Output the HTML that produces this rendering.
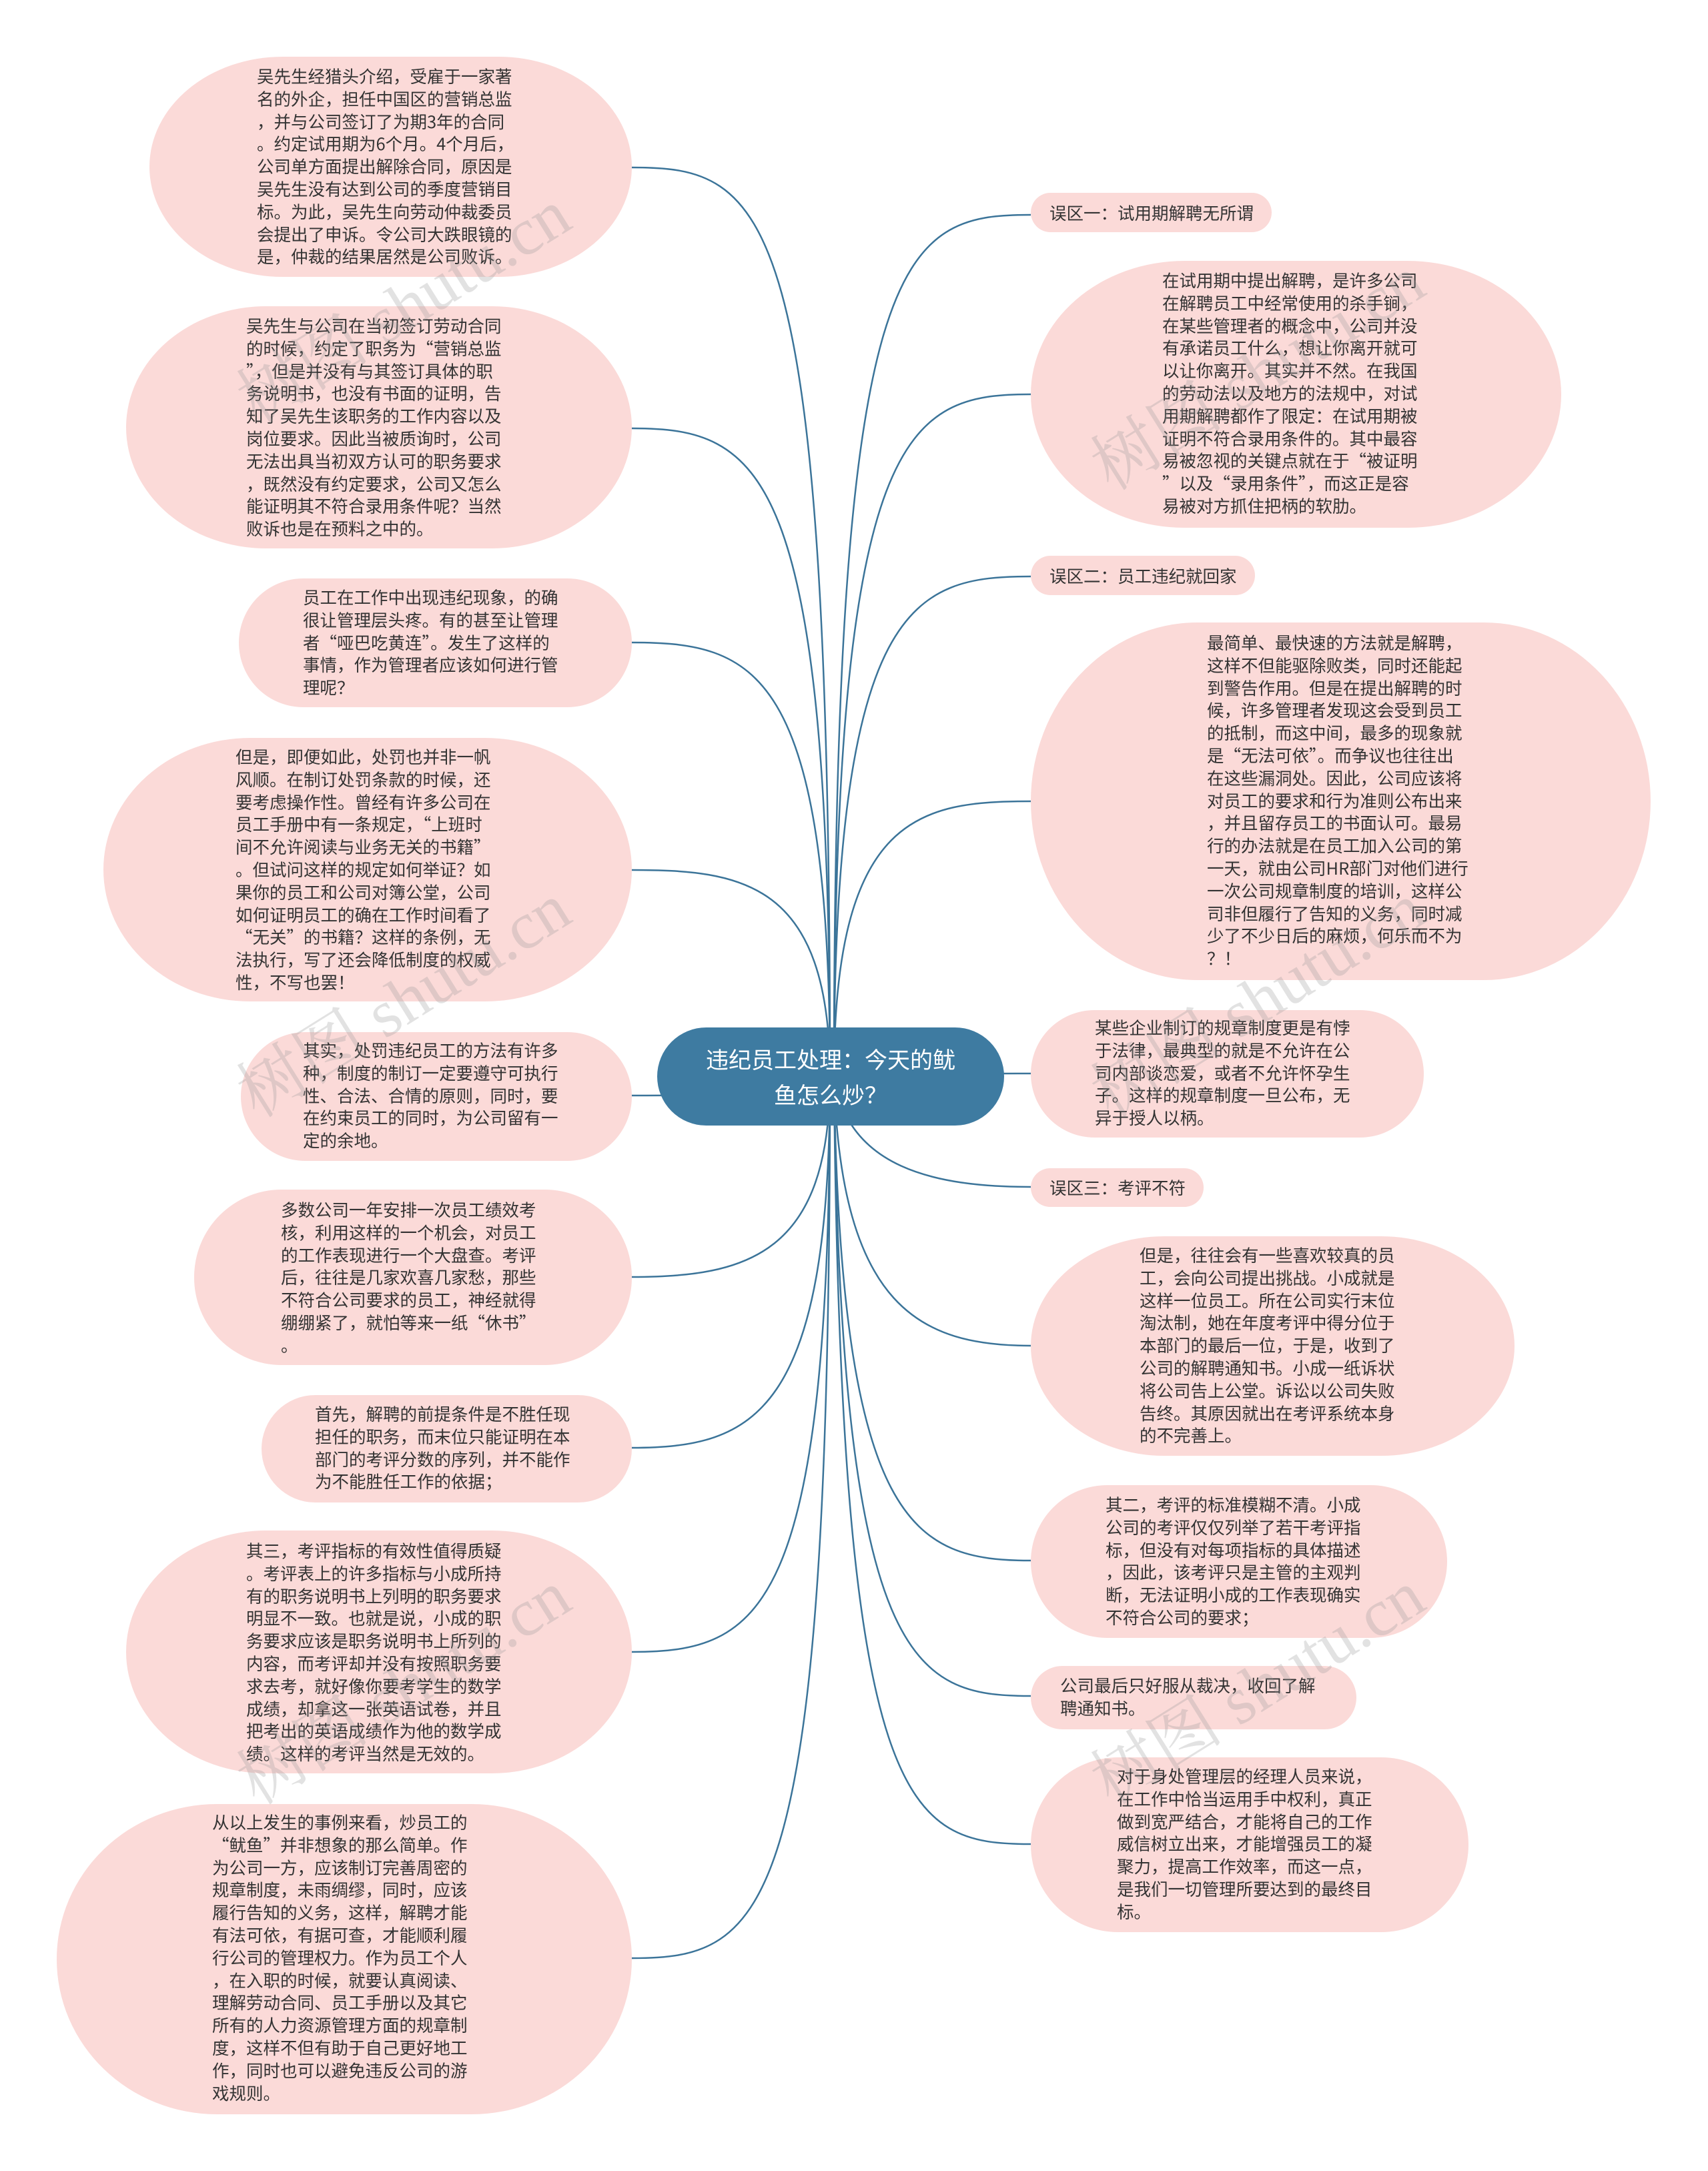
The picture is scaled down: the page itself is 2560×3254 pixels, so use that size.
<!DOCTYPE html>
<html><head><meta charset="utf-8">
<style>
html,body{margin:0;padding:0;background:#fff;}
body{width:2560px;height:3254px;position:relative;overflow:hidden;font-family:"Noto Sans CJK SC","Liberation Sans",sans-serif;}
.n{position:absolute;background:#fbdad8;}
.t{position:absolute;white-space:pre;font-size:25.5px;line-height:33.8px;color:#333;}
.c{position:absolute;left:985px;top:1540px;width:520px;height:147px;background:#3e7ba1;border-radius:74px;color:#fff;font-size:34px;line-height:53px;text-align:center;box-sizing:border-box;padding-top:20px;}
.w{position:absolute;font-family:"Liberation Serif","Noto Serif CJK SC",serif;font-size:100px;color:rgba(150,150,150,0.28);transform:rotate(-32deg);white-space:nowrap;}
svg{position:absolute;left:0;top:0;}
</style></head><body>
<svg width="2560" height="3254" fill="none" stroke="#3b7499" stroke-width="2.5">
<path d="M1244 1614 C1244 300 1150 251 947 251"/>
<path d="M1244 1614 C1244 700 1140 642 947 642"/>
<path d="M1244 1614 C1244 1000 1130 963 947 963"/>
<path d="M1244 1614 C1244 1320 1110 1304 947 1304"/>
<path d="M1244 1614 C1150 1642 1050 1642 947 1642"/>
<path d="M1244 1614 C1244 1880 1120 1914 947 1914"/>
<path d="M1244 1614 C1244 2120 1130 2170 947 2170"/>
<path d="M1244 1614 C1244 2420 1140 2476 947 2476"/>
<path d="M1244 1614 C1244 2880 1150 2935 947 2935"/>
<path d="M1250 1614 C1250 370 1350 322 1545 322"/>
<path d="M1250 1614 C1250 640 1360 591 1545 591"/>
<path d="M1250 1614 C1250 900 1370 864 1545 864"/>
<path d="M1250 1614 C1250 1220 1380 1201 1545 1201"/>
<path d="M1250 1614 C1380 1609 1460 1609 1545 1609"/>
<path d="M1250 1614 C1270 1750 1400 1779 1545 1779"/>
<path d="M1250 1614 C1260 1960 1380 2017 1545 2017"/>
<path d="M1250 1614 C1260 2290 1370 2339 1545 2339"/>
<path d="M1250 1614 C1260 2500 1370 2542 1545 2542"/>
<path d="M1250 1614 C1260 2720 1360 2764 1545 2764"/>
</svg>

<div class="n" style="left:224px;top:85px;width:723px;height:330px;border-radius:200px/50%"></div>
<div class="t" style="left:385px;top:97px">吴先生经猎头介绍，受雇于一家著
名的外企，担任中国区的营销总监
，并与公司签订了为期3年的合同
。约定试用期为6个月。4个月后，
公司单方面提出解除合同，原因是
吴先生没有达到公司的季度营销目
标。为此，吴先生向劳动仲裁委员
会提出了申诉。令公司大跌眼镜的
是，仲裁的结果居然是公司败诉。</div>

<div class="n" style="left:189px;top:459px;width:758px;height:363px;border-radius:210px/50%"></div>
<div class="t" style="left:369px;top:471px">吴先生与公司在当初签订劳动合同
的时候，约定了职务为“营销总监
”，但是并没有与其签订具体的职
务说明书，也没有书面的证明，告
知了吴先生该职务的工作内容以及
岗位要求。因此当被质询时，公司
无法出具当初双方认可的职务要求
，既然没有约定要求，公司又怎么
能证明其不符合录用条件呢？当然
败诉也是在预料之中的。</div>

<div class="n" style="left:358px;top:867px;width:589px;height:193px;border-radius:97px"></div>
<div class="t" style="left:454px;top:878px">员工在工作中出现违纪现象，的确
很让管理层头疼。有的甚至让管理
者“哑巴吃黄连”。发生了这样的
事情，作为管理者应该如何进行管
理呢？</div>

<div class="n" style="left:155px;top:1106px;width:792px;height:395px;border-radius:220px/50%"></div>
<div class="t" style="left:353px;top:1117px">但是，即便如此，处罚也并非一帆
风顺。在制订处罚条款的时候，还
要考虑操作性。曾经有许多公司在
员工手册中有一条规定，“上班时
间不允许阅读与业务无关的书籍”
。但试问这样的规定如何举证？如
果你的员工和公司对簿公堂，公司
如何证明员工的确在工作时间看了
“无关”的书籍？这样的条例，无
法执行，写了还会降低制度的权威
性，不写也罢！</div>

<div class="n" style="left:361px;top:1547px;width:586px;height:193px;border-radius:97px"></div>
<div class="t" style="left:454px;top:1557px">其实，处罚违纪员工的方法有许多
种，制度的制订一定要遵守可执行
性、合法、合情的原则，同时，要
在约束员工的同时，为公司留有一
定的余地。</div>

<div class="c">违纪员工处理：今天的鱿<br>鱼怎么炒？</div>

<div class="n" style="left:291px;top:1783px;width:656px;height:263px;border-radius:131px"></div>
<div class="t" style="left:421px;top:1796px">多数公司一年安排一次员工绩效考
核，利用这样的一个机会，对员工
的工作表现进行一个大盘查。考评
后，往往是几家欢喜几家愁，那些
不符合公司要求的员工，神经就得
绷绷紧了，就怕等来一纸“休书”
。</div>

<div class="n" style="left:392px;top:2091px;width:555px;height:161px;border-radius:81px"></div>
<div class="t" style="left:472px;top:2102px">首先，解聘的前提条件是不胜任现
担任的职务，而末位只能证明在本
部门的考评分数的序列，并不能作
为不能胜任工作的依据；</div>

<div class="n" style="left:189px;top:2294px;width:758px;height:364px;border-radius:210px/50%"></div>
<div class="t" style="left:369px;top:2307px">其三，考评指标的有效性值得质疑
。考评表上的许多指标与小成所持
有的职务说明书上列明的职务要求
明显不一致。也就是说，小成的职
务要求应该是职务说明书上所列的
内容，而考评却并没有按照职务要
求去考，就好像你要考学生的数学
成绩，却拿这一张英语试卷，并且
把考出的英语成绩作为他的数学成
绩。这样的考评当然是无效的。</div>

<div class="n" style="left:85px;top:2704px;width:862px;height:465px;border-radius:240px/50%"></div>
<div class="t" style="left:318px;top:2714px">从以上发生的事例来看，炒员工的
“鱿鱼”并非想象的那么简单。作
为公司一方，应该制订完善周密的
规章制度，未雨绸缪，同时，应该
履行告知的义务，这样，解聘才能
有法可依，有据可查，才能顺利履
行公司的管理权力。作为员工个人
，在入职的时候，就要认真阅读、
理解劳动合同、员工手册以及其它
所有的人力资源管理方面的规章制
度，这样不但有助于自己更好地工
作，同时也可以避免违反公司的游
戏规则。</div>

<div class="n" style="left:1545px;top:289px;width:361px;height:59px;border-radius:30px"></div>
<div class="t" style="left:1573px;top:302px">误区一：试用期解聘无所谓</div>

<div class="n" style="left:1545px;top:391px;width:795px;height:400px;border-radius:230px/50%"></div>
<div class="t" style="left:1742px;top:403px">在试用期中提出解聘，是许多公司
在解聘员工中经常使用的杀手锏，
在某些管理者的概念中，公司并没
有承诺员工什么，想让你离开就可
以让你离开。其实并不然。在我国
的劳动法以及地方的法规中，对试
用期解聘都作了限定：在试用期被
证明不符合录用条件的。其中最容
易被忽视的关键点就在于“被证明
”以及“录用条件”，而这正是容
易被对方抓住把柄的软肋。</div>

<div class="n" style="left:1545px;top:833px;width:336px;height:59px;border-radius:30px"></div>
<div class="t" style="left:1573px;top:846px">误区二：员工违纪就回家</div>

<div class="n" style="left:1545px;top:933px;width:929px;height:536px;border-radius:250px/50%"></div>
<div class="t" style="left:1809px;top:946px">最简单、最快速的方法就是解聘，
这样不但能驱除败类，同时还能起
到警告作用。但是在提出解聘的时
候，许多管理者发现这会受到员工
的抵制，而这中间，最多的现象就
是“无法可依”。而争议也往往出
在这些漏洞处。因此，公司应该将
对员工的要求和行为准则公布出来
，并且留存员工的书面认可。最易
行的办法就是在员工加入公司的第
一天，就由公司HR部门对他们进行
一次公司规章制度的培训，这样公
司非但履行了告知的义务，同时减
少了不少日后的麻烦，何乐而不为
？！</div>

<div class="n" style="left:1545px;top:1514px;width:589px;height:191px;border-radius:96px"></div>
<div class="t" style="left:1641px;top:1523px">某些企业制订的规章制度更是有悖
于法律，最典型的就是不允许在公
司内部谈恋爱，或者不允许怀孕生
子。这样的规章制度一旦公布，无
异于授人以柄。</div>

<div class="n" style="left:1545px;top:1751px;width:259px;height:58px;border-radius:29px"></div>
<div class="t" style="left:1573px;top:1763px">误区三：考评不符</div>

<div class="n" style="left:1545px;top:1853px;width:725px;height:329px;border-radius:200px/50%"></div>
<div class="t" style="left:1708px;top:1864px">但是，往往会有一些喜欢较真的员
工，会向公司提出挑战。小成就是
这样一位员工。所在公司实行末位
淘汰制，她在年度考评中得分位于
本部门的最后一位，于是，收到了
公司的解聘通知书。小成一纸诉状
将公司告上公堂。诉讼以公司失败
告终。其原因就出在考评系统本身
的不完善上。</div>

<div class="n" style="left:1545px;top:2226px;width:624px;height:229px;border-radius:115px"></div>
<div class="t" style="left:1657px;top:2238px">其二，考评的标准模糊不清。小成
公司的考评仅仅列举了若干考评指
标，但没有对每项指标的具体描述
，因此，该考评只是主管的主观判
断，无法证明小成的工作表现确实
不符合公司的要求；</div>

<div class="n" style="left:1545px;top:2497px;width:488px;height:95px;border-radius:48px"></div>
<div class="t" style="left:1589px;top:2509px">公司最后只好服从裁决，收回了解
聘通知书。</div>

<div class="n" style="left:1545px;top:2634px;width:656px;height:262px;border-radius:131px"></div>
<div class="t" style="left:1674px;top:2645px">对于身处管理层的经理人员来说，
在工作中恰当运用手中权利，真正
做到宽严结合，才能将自己的工作
威信树立出来，才能增强员工的凝
聚力，提高工作效率，而这一点，
是我们一切管理所要达到的最终目
标。</div>

<div class="w" style="left:320px;top:380px">树图 shutu.cn</div>
<div class="w" style="left:1600px;top:480px">树图 shutu.cn</div>
<div class="w" style="left:320px;top:1420px">树图 shutu.cn</div>
<div class="w" style="left:1600px;top:1420px">树图 shutu.cn</div>
<div class="w" style="left:320px;top:2450px">树图 shutu.cn</div>
<div class="w" style="left:1600px;top:2450px">树图 shutu.cn</div>
</body></html>
